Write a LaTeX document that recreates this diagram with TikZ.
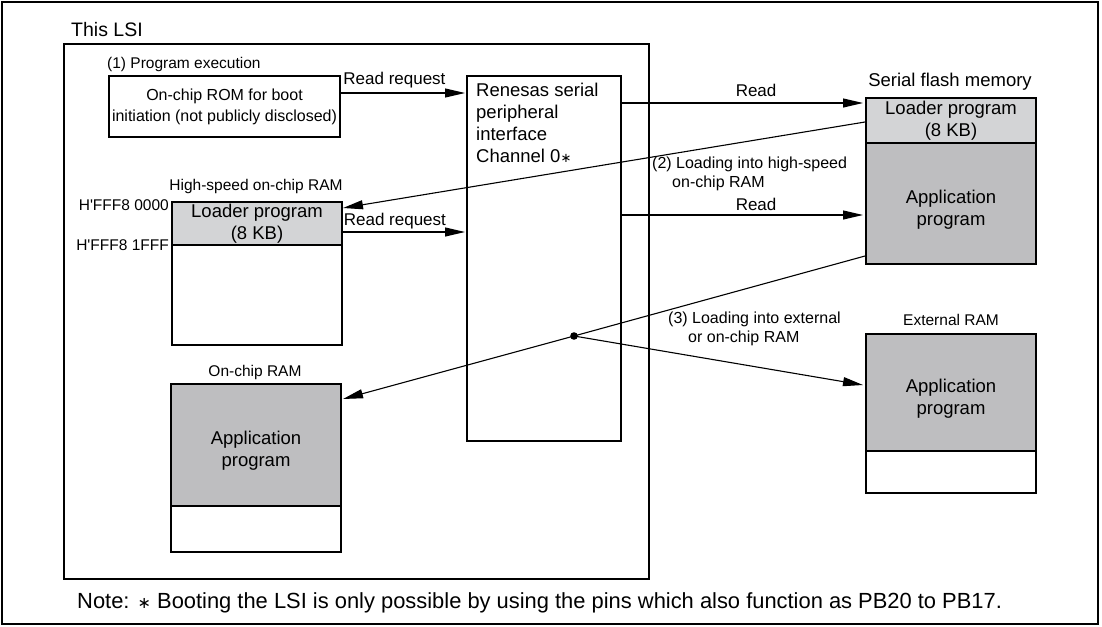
\documentclass[tikz,border=0pt]{standalone}
\usepackage{fontspec}
\setmainfont{Liberation Sans}
\newfontfamily\dvf{DejaVu Sans}
\usetikzlibrary{arrows.meta}
\definecolor{loadgray}{RGB}{211,212,214}
\definecolor{appgray}{RGB}{190,190,192}
\tikzset{
  box/.style={draw, line width=2pt, inner sep=0pt, anchor=north west},
  conn/.style={line width=1.1pt, -{Triangle[length=20pt,width=9pt]}},
  plain/.style={line width=1.1pt},
  lbl/.style={inner sep=0pt, font=\fontsize{15.5}{18}\selectfont},
  rlbl/.style={inner sep=0pt, font=\fontsize{17}{20}\selectfont},
  big/.style={inner sep=0pt, font=\fontsize{18.5}{22}\selectfont, align=center},
}
\begin{document}
\begin{tikzpicture}[x=1pt,y=-1pt]
\useasboundingbox (0,0) rectangle (1102,626);
\draw[line width=1.3pt] (2,2) rectangle (1098,624);
% LSI
\node[lbl, anchor=west, font=\fontsize{19.5}{22}\selectfont] (lsilbl) at (71,30) {This LSI};
\node[box, line width=1.6pt, minimum width=585pt, minimum height=535pt] (lsi) at (63,43) {};
% ROM
\node[lbl, anchor=west] (plbl) at (107,64) {(1) Program execution};
\node[box, minimum width=231pt, minimum height=61pt] (rom) at (108,75) {};
\node[lbl, align=center, font=\fontsize{16}{21}\selectfont] (romtxt) at (rom.center) {On-chip ROM for boot\\initiation (not publicly disclosed)};
% Renesas
\node[box, minimum width=154pt, minimum height=365pt] (rspi) at (466,75) {};
\node[inner sep=0pt, anchor=north west, align=left, font=\fontsize{18.5}{22}\selectfont] (rspitxt) at (476,83) {Renesas serial\\peripheral\\interface\\Channel 0{\dvf\fontsize{13}{15}\selectfont ∗}};
% High speed RAM
\node[lbl, anchor=center] (hslbl) at (256,186) {High-speed on-chip RAM};
\node[box, fill=loadgray, minimum width=170pt, minimum height=43pt] (hsload) at (171,201) {};
\node[big] at (hsload.center) {Loader program\\(8 KB)};
\node[box, minimum width=170pt, minimum height=100pt] (hsrest) at (171,244) {};
\node[lbl, anchor=east] (addr1) at (169,205) {H\textquotesingle FFF8 0000};
\node[lbl, anchor=east] (addr2) at (169,245) {H\textquotesingle FFF8 1FFF};
% On-chip RAM
\node[lbl, anchor=center] (oclbl) at (255,372) {On-chip RAM};
\node[box, fill=appgray, minimum width=170pt, minimum height=122pt] (ocapp) at (170,383) {};
\node[big] at ([yshift=-6pt]ocapp.center) {Application\\program};
\node[box, minimum width=170pt, minimum height=46pt] (ocrest) at (170,505) {};
% Serial flash
\node[lbl, anchor=center, font=\fontsize{18.5}{22}\selectfont] (sflbl) at (950,82) {Serial flash memory};
\node[box, fill=loadgray, minimum width=170pt, minimum height=45pt] (sfload) at (865,97) {};
\node[big] at (sfload.center) {Loader program\\(8 KB)};
\node[box, fill=appgray, minimum width=170pt, minimum height=121pt] (sfapp) at (865,142) {};
\node[big] at ([yshift=-6pt]sfapp.center) {Application\\program};
% External RAM
\node[lbl, anchor=center] (exlbl) at (951,320) {External RAM};
\node[box, fill=appgray, minimum width=170pt, minimum height=117pt] (exapp) at (865,333) {};
\node[big] at ([yshift=-6pt]exapp.center) {Application\\program};
\node[box, minimum width=170pt, minimum height=42pt] (exrest) at (865,450) {};
% connector points
\coordinate (romR) at (339,93);
\coordinate (rspiL1) at (465,93);
\coordinate (hsR) at (342,232);
\coordinate (rspiL2) at (465,232);
\coordinate (rspiR1) at (620,103);
\coordinate (sfL1) at (863,103);
\coordinate (rspiR2) at (620,215);
\coordinate (sfL2) at (863,215);
\coordinate (sfL3) at (865,122);
\coordinate (hsTip) at (343,208);
\coordinate (sfL4) at (865,256);
\coordinate (dot) at (574,336);
\coordinate (ocTip) at (343,399);
\coordinate (exTip) at (863,385);
% connectors
\draw[conn] (romR) -- node[rlbl, above=4pt, pos=0.44] {Read request} (rspiL1);
\draw[conn] (hsR) -- node[rlbl, above=2pt, pos=0.43] {Read request} (rspiL2);
\draw[conn] (rspiR1) -- node[rlbl, above=6pt, pos=0.56] {Read} (sfL1);
\draw[conn] (rspiR2) -- node[rlbl, above=4pt, pos=0.56] {Read} (sfL2);
\draw[conn] (sfL3) -- (hsTip);
\draw[plain] (sfL4) -- (dot);
\draw[conn] (dot) -- (ocTip);
\draw[conn] (dot) -- (exTip);
\fill (dot) circle (3.8pt);
\node[lbl, anchor=north west, align=left, font=\fontsize{16}{19}\selectfont] (l2) at (652,157) {(2) Loading into high-speed\\\hspace{20pt}on-chip RAM};
\node[lbl, anchor=north west, align=left, font=\fontsize{16}{19}\selectfont] (l3) at (668,312) {(3) Loading into external\\\hspace{20pt}or on-chip RAM};
% note
\node[lbl, anchor=west, font=\fontsize{21.9}{24}\selectfont] (note) at (77,603) {Note: {\dvf\fontsize{16}{18}\selectfont ∗} Booting the LSI is only possible by using the pins which also function as PB20 to PB17.};
\end{tikzpicture}
\end{document}
